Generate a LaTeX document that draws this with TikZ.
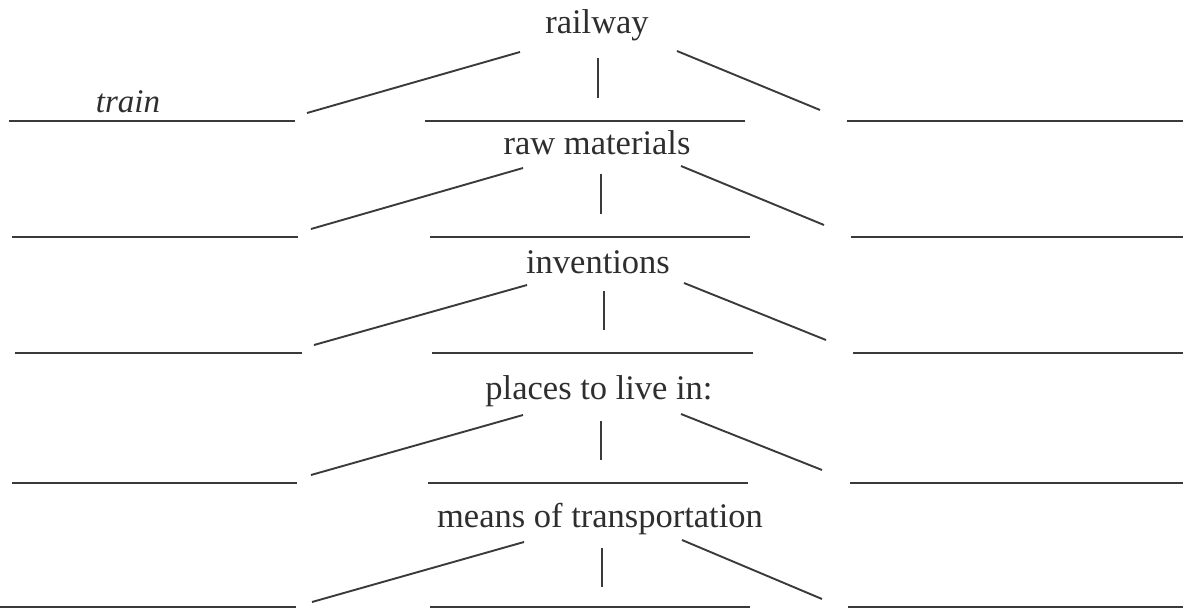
\documentclass[tikz,border=0pt]{standalone}
\usepackage{fontspec}
\setmainfont{Liberation Serif}
\definecolor{ink}{HTML}{2E2E2E}
\definecolor{rule}{HTML}{3A3A3A}
\tikzset{
  heading/.style={anchor=base, inner sep=0pt, text=ink,
    font=\fontsize{34.5}{40}\selectfont},
  answer/.style={anchor=base, inner sep=0pt, text=ink,
    font=\fontsize{33}{38}\selectfont\itshape},
  blank/.style={draw=rule, line width=1.9pt},
  link/.style={draw=rule, line width=1.9pt},
}
\begin{document}
\begin{tikzpicture}[x=1pt,y=-1pt]
\useasboundingbox (0,0) rectangle (1183,608);

% ---- level 1 ----
\node[heading] (h1) at (597,33) {railway};
\coordinate (h1l) at (520,52);  \coordinate (h1m) at (598,58);  \coordinate (h1r) at (677,51);
\coordinate (e1l) at (307,113); \coordinate (e1m) at (598,98);  \coordinate (e1r) at (820,110);
\coordinate (b1ls) at (9,121);   \coordinate (b1le) at (295,121);
\coordinate (b1cs) at (425,121); \coordinate (b1ce) at (745,121);
\coordinate (b1rs) at (847,121); \coordinate (b1re) at (1183,121);
\node[answer] (w1) at (128,112) {train};

% ---- level 2 ----
\node[heading] (h2) at (597,154) {raw materials};
\coordinate (h2l) at (523,168); \coordinate (h2m) at (601,174); \coordinate (h2r) at (681,166);
\coordinate (e2l) at (311,229); \coordinate (e2m) at (601,214); \coordinate (e2r) at (824,225);
\coordinate (b2ls) at (12,237);  \coordinate (b2le) at (298,237);
\coordinate (b2cs) at (430,237); \coordinate (b2ce) at (750,237);
\coordinate (b2rs) at (851,237); \coordinate (b2re) at (1183,237);

% ---- level 3 ----
\node[heading] (h3) at (598,273) {inventions};
\coordinate (h3l) at (527,285); \coordinate (h3m) at (604,291); \coordinate (h3r) at (684,283);
\coordinate (e3l) at (314,345); \coordinate (e3m) at (604,330); \coordinate (e3r) at (826,340);
\coordinate (b3ls) at (15,353);  \coordinate (b3le) at (302,353);
\coordinate (b3cs) at (432,353); \coordinate (b3ce) at (753,353);
\coordinate (b3rs) at (853,353); \coordinate (b3re) at (1183,353);

% ---- level 4 ----
\node[heading] (h4) at (599,399) {places to live in:};
\coordinate (h4l) at (523,415); \coordinate (h4m) at (601,421); \coordinate (h4r) at (681,414);
\coordinate (e4l) at (311,475); \coordinate (e4m) at (601,460); \coordinate (e4r) at (822,470);
\coordinate (b4ls) at (12,483);  \coordinate (b4le) at (297,483);
\coordinate (b4cs) at (428,483); \coordinate (b4ce) at (748,483);
\coordinate (b4rs) at (850,483); \coordinate (b4re) at (1183,483);

% ---- level 5 ----
\node[heading] (h5) at (600,527) {means of transportation};
\coordinate (h5l) at (524,542); \coordinate (h5m) at (602,548); \coordinate (h5r) at (682,540);
\coordinate (e5l) at (312,602); \coordinate (e5m) at (602,587); \coordinate (e5r) at (822,599);
\coordinate (b5ls) at (0,607);   \coordinate (b5le) at (296,607);
\coordinate (b5cs) at (430,607); \coordinate (b5ce) at (750,607);
\coordinate (b5rs) at (848,607); \coordinate (b5re) at (1183,607);

% connectors and answer lines for every level
\foreach \k in {1,...,5}{
  \draw[link] (h\k l) -- (e\k l);
  \draw[link] (h\k m) -- (e\k m);
  \draw[link] (h\k r) -- (e\k r);
  \draw[blank] (b\k ls) -- (b\k le);
  \draw[blank] (b\k cs) -- (b\k ce);
  \draw[blank] (b\k rs) -- (b\k re);
}
\end{tikzpicture}
\end{document}
